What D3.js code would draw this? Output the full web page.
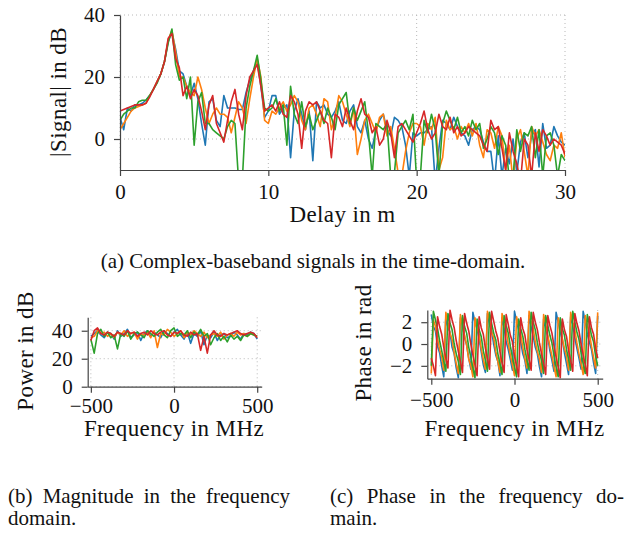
<!DOCTYPE html>
<html>
<head>
<meta charset="utf-8">
<script src="https://cdn.jsdelivr.net/npm/d3@7"></script>
<style>
body { margin: 0; background: #fff; }
svg { font-family: 'Liberation Serif', 'Times New Roman', serif; }
</style>
</head>
<body>
<svg width="627" height="542"></svg>
<script>
const colors = ['#1f77b4', '#ff7f0e', '#2ca02c', '#d62728'];

// (a) time-domain, |signal| in dB, one sample every 0.25 m
const delayStep = 0.25;
const delayBlue = [
  7, 3, 10, 9, 11, 11, 11.5, 12.5, 14, 16, 18.5, 21, 25, 31.5, 34.5, 29,
  22, 21, 17, 14, 18, 13, 5, -2, 12, 13, 6, 4, 14, 10, 10, 10,
  9.5, 9.5, 15, 19, 22, 25, 17, 7, 9, 14, 14, 8, 10, 11, -6, 9,
  13, 8, 3, 9, -7, 12, 10, 11, 8, 7, 9, 12, 6, 5, 9, 11,
  4, 2, 6, 0, -3, 3, 6, 8, 3, 1, 7, 6, 4, -2, -12, 2,
  1, 2, 2, 3, 4, -14, -3, 6, 5, 3, 7, 4, 2, 1, -2, 3,
  4, 3, -1, -4, -4, -14, 1, -12, -3, -8, 0, -11, -1, 2, -6, 1,
  3, -9, 5, -3, -2, 4, 1, -1, -2
];
const delayOrange = [
  3, 5, 7, 9, 10, 10.5, 11, 11.5, 14, 16, 18.5, 21, 25, 32, 35, 28,
  20, 20, 17, 15, 14, 20, 16, 10, 5, 8, 10, 8, 8, 7, 2, 7,
  12, 10, 5, 13, 20, 26, 20, 6, 5, 9, 8, 10, 12, 9, 11, 14,
  12, 6, 3, 10, 11, 8, 4, 13, 12, 3, 7, 14, 12, 8, 4, 10,
  -5, 0, 6, 8, 5, 2, 7, 8, 1, 4, -3, -11, -12, -4, 2, 5,
  5, 4, -2, 5, 3, 7, -10, -6, 6, 3, 4, 0, 4, 2, 5, 1,
  5, -2, -6, 3, 2, -3, 4, 1, -10, -2, -14, 0, 3, -4, -12, 4,
  1, 3, -1, -5, -7, -2, -3, 2, -6
];
const delayGreen = [
  6, 8, 9, 10, 10, 12, 12.5, 12.5, 14, 16, 18, 21, 25, 31, 35.5, 24,
  19, 20, 13, 20, -2, 12, 15, 5, 5, 3, 2, 1, 0, 4, 6, 5,
  -14, -13, 10, 17, 22, 27, 19, 10, 9, 10, 13, 9, 11, -2, 17, 8,
  5, 12, 4, 8, 3, 6, 9, 5, 10, 7, 3, 11, 13, 15, 5, 10,
  6, 9, 12, 2, -12, 5, 4, 3, 5, -12, -11, 2, 4, 6, 3, 8,
  -14, -12, 6, 2, 8, 3, -12, 5, 9, 6, 3, 7, 2, 4, 1, 6,
  3, 5, -3, 0, 4, 2, -5, 1, -2, -13, -12, 3, -4, 2, 1, 4,
  -6, 3, -12, 1, 2, -2, -12, -5, -7
];
const delayRed = [
  9, 9.5, 10, 10.5, 11, 11, 11, 11.5, 13.5, 16, 18.5, 21, 25, 32.5, 34, 26,
  23, 14, 17, 13, 16, 14, 9, 3, 11, 14, 5, 2, -1, 6, 12, 16,
  8, 3, 14, 20, 22, 24, 17, 9, 10, 11, 9, 12, 8, 7, 14, 12,
  8, -3, 9, 12, 11, 12, 9, 6, 5, -6, 8, 7, 4, 10, 6, 3,
  9, 13, 8, 7, 2, 4, -2, 0, 6, 2, -6, 4, 5, 3, 1, -1,
  2, 5, 9, 3, 0, 2, 8, 4, 3, 7, 2, 4, 1, 2, 4, 3,
  2, 1, -2, -4, 6, 3, 4, -3, -10, 2, -4, -8, -14, 0, -2, -12,
  2, -4, 3, 1, -2, 0, -1, -2, -5
];

// (b) magnitude in dB, one sample every 20 MHz from -500
const magBlue = [
  36, 38, 40, 37, 35, 39, 38, 34, 40, 36, 38, 41, 35, 37, 39, 33, 38, 40, 36, 39,
  37, 35, 40, 38, 36, 39, 41, 37, 34, 39, 31, 38, 36, 40, 30, 37, 35, 39, 33, 37,
  38, 35, 36, 39, 37, 34, 38, 37, 39, 38, 34
];
const magOrange = [
  35, 36, 40, 38, 39, 36, 38, 35, 39, 37, 40, 36, 38, 39, 34, 38, 37, 39, 35, 40,
  28, 38, 37, 41, 39, 36, 38, 40, 35, 39, 37, 40, 38, 36, 39, 35, 37, 38, 36, 39,
  34, 37, 38, 36, 39, 37, 38, 36, 38, 37, 36
];
const magGreen = [
  34, 24, 38, 41, 36, 39, 35, 37, 27, 38, 36, 40, 34, 38, 39, 37, 35, 40, 38, 36,
  39, 41, 37, 35, 40, 42, 36, 38, 37, 40, 35, 39, 37, 41, 36, 38, 30, 35, 38, 33,
  36, 32, 37, 34, 36, 33, 37, 36, 38, 37, 36
];
const magRed = [
  33, 40, 42, 38, 37, 39, 38, 36, 39, 38, 37, 40, 38, 39, 36, 38, 39, 37, 40, 38,
  37, 39, 40, 37, 36, 39, 38, 40, 37, 36, 39, 37, 38, 26, 36, 24, 37, 40, 37, 36,
  38, 37, 38, 39, 40, 38, 37, 38, 39, 38, 35
];

// (c) phase in rad, one sample every 12.5 MHz from -500
const phaseBlue = [
  2.7, 1.6, 1.2, -0.2, -0.8, -2.0, -3.0, 2.5, 1.5, 1.1,
  -0.3, -0.9, -2.2, -3.1, 2.4, 1.9, 0.6, -0.1, -1.3, -2.3,
  2.9, 2.0, 1.4, 0.5, -0.7, -1.9, -2.6, 2.8, 1.8, 1.2,
  0.0, -1.0, -1.6, -2.9, 2.4, 1.5, 0.2, -0.5, -1.4, -2.4,
  3.0, 2.1, 1.3, 0.2, -0.9, -1.5, -2.7, 2.6, 1.6, 0.7,
  -0.3, -0.9, -2.1, -3.0, 2.3, 1.4, 0.7, -0.6, -1.5, -2.5,
  2.9, 2.0, 1.1, 0.4, -0.8, -1.8, -2.8, 2.5, 1.8, 0.6,
  -0.4, -1.3, -2.3, 3.0, 2.1, 0.9, 0.2, -0.5, -1.7, -2.7, 2.6
];
const phaseOrange = [
  -2.7, 2.2, 1.6, 0.5, -0.5, -1.2, -2.4, 2.9, 2.0, 1.0,
  0.4, -0.8, -1.8, -2.7, 2.7, 1.5, 0.8, -0.1, -1.4, -2.0,
  -3.0, 2.4, 1.4, 0.9, -0.4, -1.4, -2.3, 3.0, 2.2, 1.1,
  0.6, -0.7, -1.6, -2.6, 2.8, 1.9, 1.2, 0.0, -1.0, -1.9,
  -2.9, 2.5, 1.6, 0.9, -0.3, -1.3, -2.2, 3.0, 2.1, 1.4,
  0.2, -0.7, -1.4, -2.6, 2.7, 1.8, 0.8, -0.2, -1.1, -2.1,
  -3.0, 2.4, 1.8, 0.5, -0.4, -1.1, -2.4, 2.9, 2.0, 1.3,
  0.1, -0.9, -1.8, -2.8, 2.6, 1.7, 1.0, -0.2, -1.2, -2.2, 2.9
];
const phaseGreen = [
  -2.0, 3.0, 2.2, 1.4, 0.3, -0.6, -1.6, -2.5, 2.8, 1.9,
  1.3, 0.0, -0.9, -1.6, -2.8, 2.6, 1.6, 1.0, -0.3, -1.2,
  -2.2, -3.1, 2.3, 1.3, 0.7, -0.6, -1.5, -2.5, 2.9, 1.9,
  1.0, 0.4, -0.9, -1.8, -2.8, 2.6, 1.7, 1.0, -0.2, -1.2,
  -2.1, -3.0, 2.3, 1.4, 0.7, -0.5, -1.5, -2.4, 2.9, 2.0,
  1.3, 0.1, -0.8, -1.5, -2.7, 2.6, 1.7, 0.8, 0.1, -1.1,
  -2.1, -3.0, 2.4, 1.4, 0.8, -0.5, -1.4, -2.4, 3.0, 2.0,
  1.1, 0.4, -0.8, -1.8, -2.7, 2.7, 1.8, 0.8, 0.2, -1.1, -2.0
];
const phaseRed = [
  -1.3, -2.0, -2.9, 2.5, 1.6, 0.9, -0.3, -1.3, -2.2, 3.1,
  2.2, 1.5, 0.3, -0.7, -1.6, -2.6, 2.8, 1.9, 1.2, 0.0,
  -1.0, -1.9, -2.9, 2.5, 1.5, 0.9, -0.4, -1.3, -2.3, 3.0,
  2.1, 1.2, 0.5, -0.7, -1.7, -2.6, 2.7, 1.8, 0.8, 0.2,
  -1.1, -2.0, -3.0, 2.4, 1.4, 0.8, -0.5, -1.4, -2.4, 2.9,
  2.0, 1.3, 0.1, -0.9, -1.8, -2.8, 2.6, 1.7, 1.0, -0.2,
  -1.2, -2.1, -3.1, 2.3, 1.3, 0.7, -0.6, -1.5, -2.5, 2.8,
  1.9, 1.2, 0.0, -1.0, -1.9, -2.9, 2.5, 1.5, 0.9, -0.4, -1.3
];

const delay = delayBlue.map((d, i) => i * delayStep);
const magFreq = magBlue.map((d, i) => -500 + i * 20);
const phaseFreq = phaseBlue.map((d, i) => -500 + i * 12.5);

const svg = d3.select('svg');
const defs = svg.append('defs');

const drawPanel = (p) => {
  const xScale = d3.scaleLinear().domain(p.xDomain).range([p.left, p.right]);
  const yScale = d3.scaleLinear().domain(p.yDomain).range([p.bottom, p.top]);
  const g = svg.append('g');

  defs.append('clipPath').attr('id', p.id)
    .append('rect')
    .attr('x', p.left).attr('y', p.top - 1)
    .attr('width', p.right - p.left).attr('height', p.bottom - p.top + 1);

  // dotted grid at the ticks
  g.selectAll('.gx').data(p.xTicks).enter().append('line')
    .attr('x1', d => xScale(d)).attr('x2', d => xScale(d))
    .attr('y1', p.top).attr('y2', p.bottom)
    .attr('stroke', '#b8b8b8').attr('stroke-width', 1)
    .attr('stroke-dasharray', '1,3');
  g.selectAll('.gy').data(p.yTicks).enter().append('line')
    .attr('x1', p.left).attr('x2', p.right)
    .attr('y1', d => yScale(d)).attr('y2', d => yScale(d))
    .attr('stroke', '#b8b8b8').attr('stroke-width', 1)
    .attr('stroke-dasharray', '1,3');

  const line = d3.line()
    .x((d, i) => xScale(p.xs[i]))
    .y(d => yScale(d));

  g.append('g').attr('clip-path', `url(#${p.id})`)
    .selectAll('path').data(p.series).enter().append('path')
    .attr('d', line)
    .attr('fill', 'none')
    .attr('stroke', (d, i) => colors[i])
    .attr('stroke-width', 1.6)
    .attr('stroke-linejoin', 'round');

  const fmt = d3.format('~g');
  const xAxis = g.append('g')
    .attr('transform', `translate(0,${p.bottom})`)
    .call(d3.axisBottom(xScale).tickValues(p.xTicks).tickFormat(fmt)
      .tickSizeInner(6).tickSizeOuter(0).tickPadding(p.xPad));
  const yAxis = g.append('g')
    .attr('transform', `translate(${p.left},0)`)
    .call(d3.axisLeft(yScale).tickValues(p.yTicks).tickFormat(fmt)
      .tickSizeInner(6).tickSizeOuter(0).tickPadding(9));

  [xAxis, yAxis].forEach(a => {
    a.select('.domain').attr('stroke', '#444').attr('stroke-width', 1.2);
    a.selectAll('.tick line').attr('stroke', '#444').attr('stroke-width', 1.2);
    a.selectAll('.tick text')
      .attr('fill', '#111')
      .style('font-family', "'Liberation Serif', serif")
      .style('font-size', '21px');
  });

  g.append('text')
    .attr('x', (p.left + p.right) / 2 + (p.xLabelShift || 0))
    .attr('y', p.xLabelY)
    .attr('text-anchor', 'middle')
    .attr('fill', '#111')
    .style('font-size', '23px')
    .style('letter-spacing', '0.4px')
    .text(p.xLabel);

  g.append('text')
    .attr('transform', `translate(${p.yLabelX},${p.yLabelY}) rotate(-90)`)
    .attr('text-anchor', 'middle')
    .attr('fill', '#111')
    .style('font-size', '23px')
    .style('letter-spacing', '0.4px')
    .text(p.yLabel);
};

drawPanel({
  id: 'clipA', left: 120, right: 565, top: 15, bottom: 170,
  xDomain: [0, 30], yDomain: [-10, 40],
  xTicks: [0, 10, 20, 30], yTicks: [0, 20, 40], xPad: 8,
  xs: delay, series: [delayBlue, delayOrange, delayGreen, delayRed],
  xLabel: 'Delay in m', xLabelY: 222,
  yLabel: '|Signal| in dB', yLabelX: 66, yLabelY: 92
});

drawPanel({
  id: 'clipB', left: 87.7, right: 261.7, top: 317.3, bottom: 386.7,
  xDomain: [-519, 527], yDomain: [0, 49.6],
  xTicks: [-500, 0, 500], yTicks: [0, 20, 40], xPad: 5,
  xs: magFreq, series: [magBlue, magOrange, magGreen, magRed],
  xLabel: 'Frequency in MHz', xLabelY: 436, xLabelShift: -0.7,
  yLabel: 'Power in dB', yLabelX: 33, yLabelY: 351
});

drawPanel({
  id: 'clipC', left: 427.3, right: 602.7, top: 310, bottom: 378.7,
  xDomain: [-524, 530], yDomain: [-3.18, 3.12],
  xTicks: [-500, 0, 500], yTicks: [-2, 0, 2], xPad: 7,
  xs: phaseFreq, series: [phaseBlue, phaseOrange, phaseGreen, phaseRed],
  xLabel: 'Frequency in MHz', xLabelY: 436, xLabelShift: -0.5,
  yLabel: 'Phase in rad', yLabelX: 371, yLabelY: 343
});

// captions
const caption = (x, y, text, anchor, width) => {
  const t = svg.append('text')
    .attr('x', x).attr('y', y)
    .attr('text-anchor', anchor)
    .attr('fill', '#111')
    .style('font-size', '21px')
    .text(text);
  if (width) {
    const len = t.node().getComputedTextLength();
    const spaces = text.split(' ').length - 1;
    t.style('word-spacing', `${(width - len) / spaces}px`);
  }
};

caption(313, 268, '(a) Complex-baseband signals in the time-domain.', 'middle');
caption(8, 503, '(b) Magnitude in the frequency', 'start', 282);
caption(8, 525, 'domain.', 'start');
caption(330, 503, '(c) Phase in the frequency do-', 'start', 294);
caption(330, 525, 'main.', 'start');
</script>
</body>
</html>
